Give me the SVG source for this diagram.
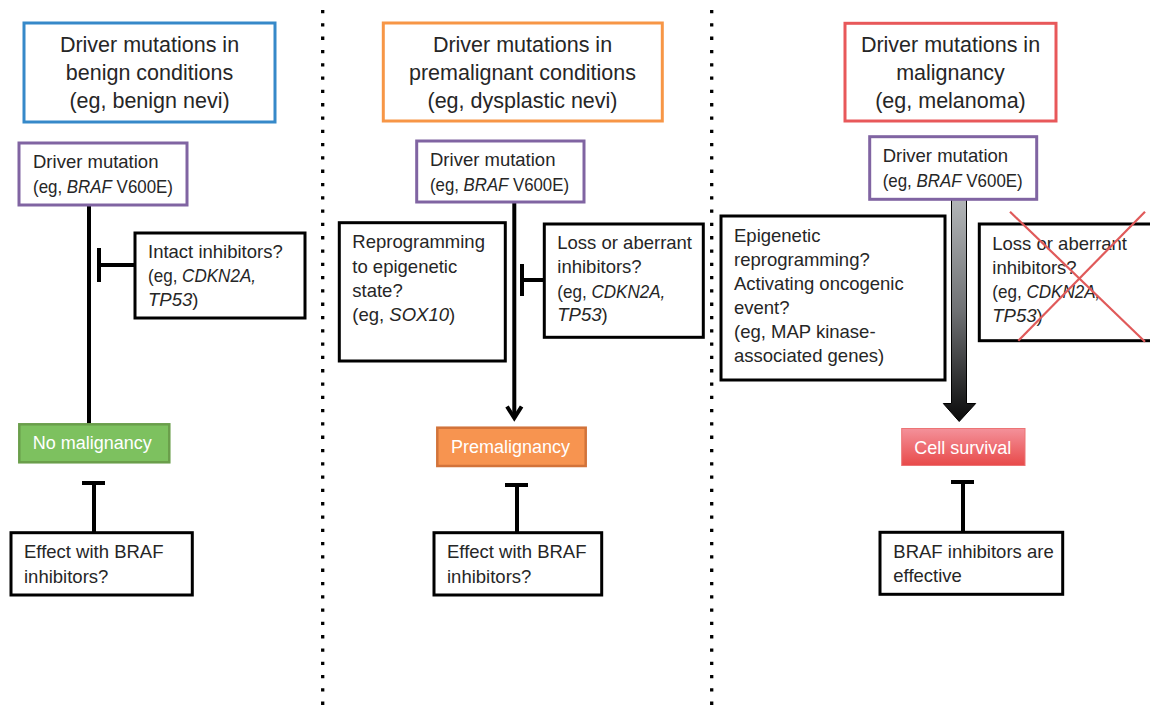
<svg xmlns="http://www.w3.org/2000/svg" width="1150" height="708" viewBox="0 0 1150 708">
<style>
text{font-family:"Liberation Sans",Arial,sans-serif;fill:#262626}
.h{font-size:21.5px;text-anchor:middle}
.b{font-size:18.5px}
.w{font-size:18px;fill:#ffffff}
.i{font-style:italic}
.box{fill:#ffffff;stroke:#000000;stroke-width:3}
.drv{fill:#ffffff;stroke:#8064A2;stroke-width:3}
.ln{stroke:#000000;stroke-width:4;fill:none}
.dot{stroke:#000000;stroke-width:3.3;stroke-dasharray:3.3 10;fill:none}
</style>
<defs>
<linearGradient id="shaft" x1="0" y1="0" x2="0" y2="1">
<stop offset="0" stop-color="#b3b6b8"/>
<stop offset="0.5" stop-color="#6f7174"/>
<stop offset="1" stop-color="#0a0a0a"/>
</linearGradient>
<linearGradient id="red" x1="0" y1="0" x2="0" y2="1">
<stop offset="0" stop-color="#f4919a"/>
<stop offset="1" stop-color="#e84a4a"/>
</linearGradient>
</defs>

<g id="dividers">
<line class="dot" x1="322.7" y1="10" x2="322.7" y2="708"/>
<line class="dot" x1="711.7" y1="10" x2="711.7" y2="708"/>
</g>

<g id="connectors">
<!-- column 1 -->
<line class="ln" x1="89" y1="205" x2="89" y2="425"/>
<line class="ln" x1="99" y1="265" x2="135" y2="265"/>
<line class="ln" x1="99" y1="248" x2="99" y2="282"/>
<line class="ln" x1="94" y1="483" x2="94" y2="533"/>
<line class="ln" x1="82" y1="483" x2="105" y2="483"/>
<!-- column 2 -->
<line class="ln" x1="514.3" y1="202" x2="514.3" y2="418"/>
<polyline class="ln" points="507,406.5 514.3,418 521.6,406.5" stroke-width="3.5"/>
<line class="ln" x1="522" y1="280" x2="544" y2="280"/>
<line class="ln" x1="522" y1="264" x2="522" y2="296"/>
<line class="ln" x1="517" y1="485" x2="517" y2="533"/>
<line class="ln" x1="505" y1="485" x2="528" y2="485"/>
<!-- column 3 -->
<path d="M951.5,199 L966.5,199 L966.5,403.5 L975.7,403.5 L959.2,421.5 L943.3,403.5 L951.5,403.5 Z" fill="url(#shaft)" stroke="#000000" stroke-width="1"/>
<line class="ln" x1="963" y1="482" x2="963" y2="533"/>
<line class="ln" x1="951" y1="482" x2="974" y2="482"/>
</g>

<!-- Column 1 -->
<g id="header-benign">
<rect x="24" y="23" width="251" height="99" fill="#ffffff" stroke="#3689C9" stroke-width="3"/>
<text class="h" x="149.5" y="52">Driver mutations in</text>
<text class="h" x="149.5" y="80">benign conditions</text>
<text class="h" x="149.5" y="108">(eg, benign nevi)</text>
</g>
<g id="driver-1">
<rect class="drv" x="19" y="143" width="168" height="62"/>
<text class="b" x="33" y="168">Driver mutation</text>
<text class="b" x="33" y="192.5" textLength="140" lengthAdjust="spacingAndGlyphs">(eg, <tspan class="i">BRAF</tspan> V600E)</text>
</g>
<g id="intact-inhibitors">
<rect class="box" x="135" y="233" width="170" height="85"/>
<text class="b" x="148" y="258">Intact inhibitors?</text>
<text class="b" x="148" y="282" textLength="108" lengthAdjust="spacingAndGlyphs">(eg, <tspan class="i">CDKN2A,</tspan></text>
<text class="b" x="148" y="306"><tspan class="i">TP53</tspan>)</text>
</g>
<g id="no-malignancy">
<rect x="19.3" y="424.3" width="150" height="38" fill="#7DC15F" stroke="#6A9E4B" stroke-width="2.5"/>
<text class="w" x="32.7" y="449.3">No malignancy</text>
</g>
<g id="effect-1">
<rect class="box" x="11" y="532.7" width="181.3" height="62.3"/>
<text class="b" x="24" y="558.3">Effect with BRAF</text>
<text class="b" x="24" y="582.7">inhibitors?</text>
</g>

<!-- Column 2 -->
<g id="header-premalignant">
<rect x="383.3" y="23" width="279" height="98" fill="#ffffff" stroke="#F79646" stroke-width="3"/>
<text class="h" x="522.5" y="52">Driver mutations in</text>
<text class="h" x="522.5" y="80">premalignant conditions</text>
<text class="h" x="522.5" y="108">(eg, dysplastic nevi)</text>
</g>
<g id="driver-2">
<rect class="drv" x="416.7" y="141" width="167.3" height="61"/>
<text class="b" x="430" y="166">Driver mutation</text>
<text class="b" x="430" y="191" textLength="139" lengthAdjust="spacingAndGlyphs">(eg, <tspan class="i">BRAF</tspan> V600E)</text>
</g>
<g id="reprogramming">
<rect class="box" x="339.3" y="222.7" width="166" height="138.3"/>
<text class="b" x="352.3" y="248.3">Reprogramming</text>
<text class="b" x="352.3" y="272.5">to epigenetic</text>
<text class="b" x="352.3" y="296.7">state?</text>
<text class="b" x="352.3" y="320.7">(eg, <tspan class="i">SOX10</tspan>)</text>
</g>
<g id="loss-inhibitors-2">
<rect class="box" x="544.3" y="224" width="159" height="113.3"/>
<text class="b" x="557.3" y="249.3">Loss or aberrant</text>
<text class="b" x="557.3" y="273.3">inhibitors?</text>
<text class="b" x="557.3" y="297.5" textLength="108" lengthAdjust="spacingAndGlyphs">(eg, <tspan class="i">CDKN2A,</tspan></text>
<text class="b" x="557.3" y="320.7"><tspan class="i">TP53</tspan>)</text>
</g>
<g id="premalignancy">
<rect x="437.3" y="427.7" width="148.4" height="38.3" fill="#F79450" stroke="#D2733A" stroke-width="2.5"/>
<text class="w" x="451" y="453.3">Premalignancy</text>
</g>
<g id="effect-2">
<rect class="box" x="434" y="532.7" width="167.7" height="62.3"/>
<text class="b" x="447" y="558.3">Effect with BRAF</text>
<text class="b" x="447" y="582.7">inhibitors?</text>
</g>

<!-- Column 3 -->
<g id="header-malignancy">
<rect x="845" y="23.3" width="211" height="97.7" fill="#ffffff" stroke="#E8585A" stroke-width="3"/>
<text class="h" x="950.5" y="51.5">Driver mutations in</text>
<text class="h" x="950.5" y="79.5">malignancy</text>
<text class="h" x="950.5" y="107.5">(eg, melanoma)</text>
</g>
<g id="driver-3">
<rect class="drv" x="869.7" y="136.7" width="167" height="62.6"/>
<text class="b" x="882.7" y="161.7">Driver mutation</text>
<text class="b" x="882.7" y="186.7" textLength="140" lengthAdjust="spacingAndGlyphs">(eg, <tspan class="i">BRAF</tspan> V600E)</text>
</g>
<g id="epigenetic">
<rect class="box" x="721" y="216" width="224" height="164"/>
<text class="b" x="734" y="241.7">Epigenetic</text>
<text class="b" x="734" y="265.5">reprogramming?</text>
<text class="b" x="734" y="289.7">Activating oncogenic</text>
<text class="b" x="734" y="313.5">event?</text>
<text class="b" x="734" y="337.5">(eg, MAP kinase-</text>
<text class="b" x="734" y="361.7">associated genes)</text>
</g>
<g id="loss-inhibitors-3">
<rect class="box" x="979.3" y="224" width="190" height="116.7"/>
<text class="b" x="992.3" y="250">Loss or aberrant</text>
<text class="b" x="992.3" y="274">inhibitors?</text>
<text class="b" x="992.3" y="298.3" textLength="108" lengthAdjust="spacingAndGlyphs">(eg, <tspan class="i">CDKN2A,</tspan></text>
<text class="b" x="992.3" y="321.7"><tspan class="i">TP53</tspan>)</text>
<line x1="1010" y1="211.7" x2="1145" y2="341.7" stroke="#E05A5A" stroke-width="2.2"/>
<line x1="1145" y1="211.7" x2="1018.3" y2="340.7" stroke="#E05A5A" stroke-width="2.2"/>
</g>
<g id="cell-survival">
<rect x="901.7" y="428.5" width="123.3" height="37" fill="url(#red)" stroke="#EC7475" stroke-width="1"/>
<text class="w" x="914.3" y="454">Cell survival</text>
</g>
<g id="braf-effective">
<rect class="box" x="880" y="532.3" width="182.7" height="62"/>
<text class="b" x="893.3" y="558.3">BRAF inhibitors are</text>
<text class="b" x="893.3" y="581.7">effective</text>
</g>
</svg>
